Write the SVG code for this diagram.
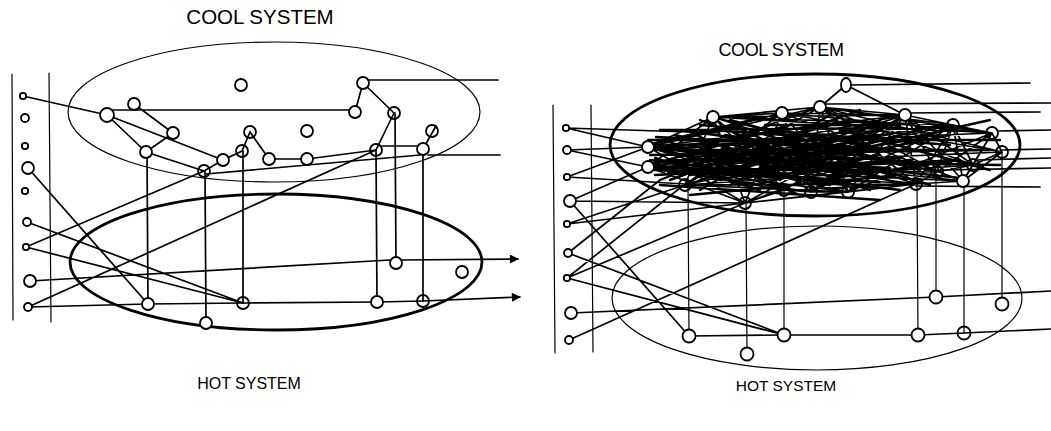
<svg xmlns="http://www.w3.org/2000/svg" width="1051" height="431" viewBox="0 0 1051 431">
<style>
.t{font-family:"Liberation Sans",Arial,sans-serif;fill:#000}
.c{fill:none;stroke:#000;stroke-linecap:round}
.w1{stroke-width:1.2}
.w2{stroke-width:1.7}
.w4{stroke-width:2.4}
.w3{stroke-width:2.8}
.n{fill:#fff;stroke:#000;stroke-width:1.8}
.o{fill:none;stroke:#000;stroke-width:1.8}
</style>
<defs>
<marker id="ah" viewBox="0 0 10 10" refX="9" refY="5" markerWidth="13" markerHeight="9" markerUnits="userSpaceOnUse" orient="auto"><path d="M0,0 L10,5 L0,10 Z" fill="#000"/></marker>
</defs>
<rect width="1051" height="431" fill="#fff"/>
<text class="t" x="260" y="24" font-size="20.5" text-anchor="middle">COOL SYSTEM</text>
<text class="t" x="781" y="56" font-size="18" text-anchor="middle" letter-spacing="-0.4">COOL SYSTEM</text>
<text class="t" x="249" y="389" font-size="16" text-anchor="middle">HOT SYSTEM</text>
<text class="t" x="786" y="391" font-size="15.5" text-anchor="middle">HOT SYSTEM</text>

<g id="frames" class="c w1">
<path d="M12,74 L13,320 M49,73 L51,322"/>
<path d="M553,105 L555,353 M591,105 L593,352"/>
</g>
<g id="systems" class="c">
<ellipse id="cool-left" class="w1" cx="274" cy="112" rx="206" ry="70"/>
<ellipse id="hot-left" class="w3" cx="276" cy="262" rx="206" ry="68"/>
<ellipse id="cool-right" class="w3" cx="815" cy="145" rx="205" ry="71"/>
<ellipse id="hot-right" class="w1" cx="817" cy="298" rx="205" ry="72"/>
</g>

<g id="connectors-left" class="c w2">
<path d="M23,96 L107,115 M112,110 L350,110 M134,104 L173,133 M107,115 L146,152 M107,115 L223,160 M173,133 L146,152 M146,152 L204,171 M204,171 L223,160 L242,151 L250,132 L269,159 L307,159 L376,150"/>
<path d="M206,174 L420,155 M382,146 L417,146 M376,150 L394,113 M363,83 L355,112 M363,83 L394,113 M369,80 L498,80 M423,149 L436,126 M428,155 L500,155"/>
<path d="M147,152 L148,304 M205,171 L206,323 M243,151 L243,303 M376,150 L377,302 M395,113 L396,263 M423,149 L423,301"/>
<path d="M28,168 L148,304 M26,247 L204,171 M27,222 L243,303 M26,247 L243,303 M30,281 L390,260 M28,307 L376,150"/>
<path d="M28,307 L148,304 L243,303 L377,302 L423,301"/>
<path d="M400,260 L518,259" marker-end="url(#ah)"/>
<path d="M423,301 L520,297" marker-end="url(#ah)"/>
</g>

<g id="connectors-right" class="c">
<path class="w2" d="M566,128 L648,147 M566,128 L720,133 M567,150 L648,147 M567,150 L648,167 M567,177 L648,147 M567,177 L685,184 M570,201 L648,167 M570,201 L745,203 M570,201 L689,336 M567,224 L745,203 M567,224 L685,185 M568,253 L660,180 M568,253 L784,335 M567,278 L685,184 M567,278 L745,203 M567,278 L784,335 M571,313 L936,297 M569,340 L916,184"/>
<path class="w2" d="M936,297 L1051,291 M689,336 L784,335 L918,335 L964,333 L1051,329"/>
<path class="w1" d="M688,185 L689,336 M746,203 L747,354 M784,190 L784,335 M917,184 L918,335 M936,172 L936,297 M964,181 L964,333 M1002,152 L1002,304"/>
<path class="w2" d="M846,85 L1030,83 M826,104 L1051,103 M905,113 L1040,112 M998,131 L1051,130 M1002,150 L1051,149 M978,160 L1051,158 M943,170 L1051,168 M916,186 L1040,187"/>
<path class="w2" d="M846,85 L820,107 M846,85 L905,115 M820,107 L905,115 M713,117 L820,107 M713,117 L782,113
M648,147 L713,117 M648,147 L782,113 M648,147 L820,107 M648,147 L905,115 M648,147 L953,125 M648,147 L992,133 M648,147 L973,165 M648,147 L963,181 M648,147 L916,184 M648,147 L848,192 M648,147 L784,190 M648,147 L745,203
M648,167 L713,117 M648,167 L820,107 M648,167 L905,115 M648,167 L953,125 M648,167 L1002,152 M648,167 L937,172 M648,167 L963,181 M648,167 L916,184 M648,167 L811,192 M648,167 L848,192 M648,167 L745,203 M648,167 L784,190
M685,185 L713,117 M685,185 L782,113 M685,185 L820,107 M685,185 L905,115 M685,185 L953,125 M685,185 L973,165 M685,185 L916,184 M685,185 L848,192
M713,117 L905,115 M713,117 L953,125 M713,117 L992,133 M713,117 L937,172 M713,117 L916,184 M713,117 L811,192 M713,117 L784,190 M713,117 L745,203
M782,113 L905,115 M782,113 L992,133 M782,113 L1002,152 M782,113 L963,181 M782,113 L848,192 M782,113 L811,192 M782,113 L745,203
M820,107 L811,192 M820,107 L848,192 M820,107 L916,184 M820,107 L937,172 M820,107 L973,165 M820,107 L1002,152 M820,107 L992,133 M820,107 L953,125
M905,115 L916,184 M905,115 L937,172 M905,115 L973,165 M905,115 L963,181 M905,115 L848,192 M905,115 L811,192 M905,115 L953,125
M953,125 L992,133 M953,125 L973,165 M953,125 L937,172 M953,125 L963,181 M953,125 L916,184
M992,133 L1002,152 M992,133 L973,165 M992,133 L963,181 M992,133 L937,172
M1002,152 L973,165 M1002,152 L963,181 M973,165 L963,181 M973,165 L937,172 M937,172 L916,184 M963,181 L916,184 M916,184 L848,192 M848,192 L811,192 M811,192 L784,190 M784,190 L745,203
M745,203 L848,192 M745,203 L916,184 M745,203 L905,115 M745,203 L953,125 M784,190 L905,115 M784,190 L916,184 M811,192 L953,125 M811,192 L905,115 M848,192 L953,125 M848,192 L992,133"/>
<path class="w4" d="M648,140 L1000,140 M650,155 L990,150 M655,175 L960,160 M660,130 L900,128 M670,160 L1000,165 M700,150 L960,178 M690,195 L900,175 M660,185 L880,200 M700,125 L950,145 M720,180 L990,120
M650,150 L880,135 M650,160 L900,190 M655,145 L870,175 M660,170 L850,120 M660,150 L830,185 M665,140 L800,195 M670,180 L860,110 M680,130 L890,160 M690,175 L910,140 M700,120 L860,180 M700,190 L830,115 M710,140 L900,150 M720,165 L880,130 M730,120 L920,170 M740,180 L870,145 M750,130 L930,185 M760,170 L940,125 M770,150 L980,150 M650,165 L790,125 M655,158 L760,190 M680,150 L830,150 M690,160 L850,165 M700,170 L870,170 M710,130 L860,140 M720,150 L770,125 M660,180 L760,140 M730,185 L820,135 M740,140 L840,175 M780,180 L880,120 M790,140 L900,185 M800,165 L950,135 M820,180 L960,160 M840,130 L990,170
M652,144 L760,118 M655,170 L800,178 M665,150 L740,172 M675,135 L780,160 M690,145 L820,125 M700,180 L790,155 M715,160 L800,140 M725,135 L850,155 M735,170 L845,185 M745,150 L860,160 M755,185 L880,155 M765,125 L900,125
M656,137 L850,146 M662,162 L860,152 M668,172 L880,182 M674,146 L790,170 M682,167 L860,128 M694,134 L800,182 M706,158 L890,168 M716,174 L840,140 M728,143 L870,190 M738,128 L830,170 M748,162 L900,132 M758,145 L880,178 M772,176 L900,158 M786,132 L880,148 M796,158 L870,136 M808,172 L910,160"/>
</g>

<g id="left-inputs">
<circle class="n" cx="23" cy="96" r="3.2"/><circle class="n" cx="25" cy="118" r="4"/><circle class="n" cx="25" cy="146" r="3.2"/><circle class="n" cx="28" cy="168" r="6"/><circle class="n" cx="25" cy="191" r="3.2"/><circle class="n" cx="27" cy="222" r="4"/><circle class="n" cx="26" cy="247" r="3.2"/><circle class="n" cx="30" cy="281" r="6"/><circle class="n" cx="28" cy="307" r="4"/>
</g>
<g id="cool-left-nodes">
<g id="cl1"><circle class="n" cx="241" cy="85" r="6"/></g>
<g id="cl2"><circle class="n" cx="107" cy="115" r="7"/></g>
<g id="cl3"><circle class="n" cx="134" cy="104" r="6"/></g>
<g id="cl4"><circle class="n" cx="173" cy="133" r="6"/></g>
<g id="cl5"><circle class="n" cx="146" cy="152" r="6"/></g>
<g id="cl6"><circle class="n" cx="223" cy="160" r="6"/></g>
<g id="cl7"><circle class="o" cx="204" cy="171" r="6"/></g>
<g id="cl8"><circle class="o" cx="242" cy="151" r="6"/></g>
<g id="cl9"><circle class="o" cx="250" cy="132" r="6"/></g>
<g id="cl10"><circle class="n" cx="363" cy="83" r="6"/></g>
<g id="cl11"><circle class="n" cx="355" cy="112" r="6"/></g>
<g id="cl12"><circle class="o" cx="394" cy="113" r="6"/></g>
<g id="cl13"><circle class="n" cx="269" cy="159" r="6"/></g>
<g id="cl14"><circle class="n" cx="307" cy="159" r="6"/></g>
<g id="cl15"><circle class="n" cx="307" cy="131" r="6"/></g>
<g id="cl16"><circle class="o" cx="376" cy="150" r="6"/></g>
<g id="cl17"><circle class="n" cx="423" cy="149" r="6"/></g>
<g id="cl18"><circle class="o" cx="432" cy="131" r="6"/></g>
</g>
<g id="hot-left-nodes">
<g id="hl1"><circle class="n" cx="148" cy="304" r="6"/></g>
<g id="hl2"><circle class="n" cx="206" cy="323" r="6"/></g>
<g id="hl3"><circle class="o" cx="243" cy="303" r="6"/></g>
<g id="hl4"><circle class="n" cx="377" cy="302" r="6"/></g>
<g id="hl5"><circle class="n" cx="396" cy="263" r="6"/></g>
<g id="hl6"><circle class="o" cx="423" cy="301" r="6"/></g>
<g id="hl7"><circle class="n" cx="462" cy="272" r="6"/></g>
</g>

<g id="right-inputs">
<circle class="n" cx="566" cy="128" r="3.2"/><circle class="n" cx="567" cy="150" r="4"/><circle class="n" cx="567" cy="177" r="3.2"/><circle class="n" cx="570" cy="201" r="6"/><circle class="n" cx="567" cy="224" r="3.2"/><circle class="n" cx="568" cy="253" r="4"/><circle class="n" cx="567" cy="278" r="3.2"/><circle class="n" cx="571" cy="313" r="6"/><circle class="n" cx="569" cy="340" r="4"/>
</g>
<g id="cool-right-nodes">
<g id="cr1"><circle class="n" cx="713" cy="117" r="6"/></g>
<g id="cr2"><circle class="n" cx="782" cy="113" r="6"/></g>
<g id="cr3"><ellipse class="n" cx="846" cy="85" rx="5" ry="7"/></g>
<g id="cr4"><circle class="n" cx="820" cy="107" r="6"/></g>
<g id="cr5"><circle class="n" cx="905" cy="115" r="6"/></g>
<g id="cr6"><circle class="o" cx="953" cy="125" r="6"/></g>
<g id="cr7"><circle class="o" cx="992" cy="133" r="6"/></g>
<g id="cr8"><circle class="o" cx="1002" cy="152" r="6"/></g>
<g id="cr9"><circle class="o" cx="973" cy="165" r="6"/></g>
<g id="cr10"><circle class="o" cx="937" cy="172" r="6"/></g>
<g id="cr11"><circle class="n" cx="963" cy="181" r="6"/></g>
<g id="cr12"><circle class="o" cx="916" cy="184" r="6"/></g>
<g id="cr13"><circle class="o" cx="848" cy="192" r="6"/></g>
<g id="cr14"><circle class="o" cx="811" cy="192" r="6"/></g>
<g id="cr15"><circle class="o" cx="745" cy="203" r="6"/></g>
<g id="cr16"><circle class="o" cx="784" cy="190" r="6"/></g>
<g id="cr17"><circle class="o" cx="685" cy="185" r="6"/></g>
<g id="cr18"><circle class="n" cx="648" cy="147" r="6"/></g>
<g id="cr19"><circle class="n" cx="648" cy="167" r="6"/></g>
</g>
<g id="hot-right-nodes">
<g id="hr1"><circle class="n" cx="689" cy="336" r="6.5"/></g>
<g id="hr2"><circle class="n" cx="747" cy="354" r="6.5"/></g>
<g id="hr3"><circle class="n" cx="784" cy="335" r="6.5"/></g>
<g id="hr4"><circle class="n" cx="936" cy="297" r="6.5"/></g>
<g id="hr5"><circle class="n" cx="918" cy="335" r="6.5"/></g>
<g id="hr6"><circle class="o" cx="964" cy="333" r="6.5"/></g>
<g id="hr7"><circle class="n" cx="1002" cy="304" r="6.5"/></g>
</g>
</svg>
